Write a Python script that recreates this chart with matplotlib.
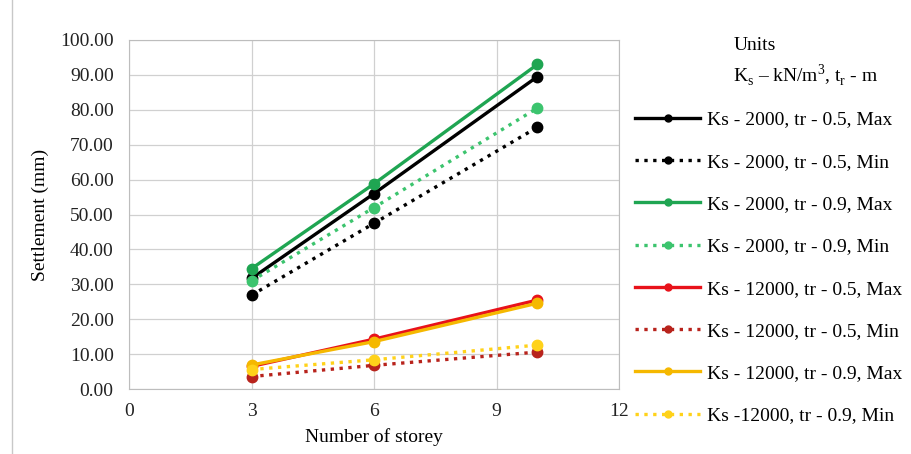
import matplotlib
matplotlib.use("Agg")
import matplotlib.pyplot as plt
from matplotlib.lines import Line2D

storeys = [3, 6, 10]

ks2000_tr05_max = [31.7, 56.0, 89.5]
ks2000_tr05_min = [26.9, 47.5, 75.0]
ks2000_tr09_max = [34.5, 58.8, 93.0]
ks2000_tr09_min = [31.0, 52.0, 80.5]
ks12000_tr05_max = [6.5, 14.3, 25.5]
ks12000_tr05_min = [3.6, 6.8, 10.6]
ks12000_tr09_max = [6.9, 13.6, 24.6]
ks12000_tr09_min = [5.6, 8.4, 12.6]

labels = [
    "Ks - 2000, tr - 0.5, Max",
    "Ks - 2000, tr - 0.5, Min",
    "Ks - 2000, tr - 0.9, Max",
    "Ks - 2000, tr - 0.9, Min",
    "Ks - 12000, tr - 0.5, Max",
    "Ks - 12000, tr - 0.5, Min",
    "Ks - 12000, tr - 0.9, Max",
    "Ks -12000, tr - 0.9, Min",
]
series = [
    ks2000_tr05_max, ks2000_tr05_min, ks2000_tr09_max, ks2000_tr09_min,
    ks12000_tr05_max, ks12000_tr05_min, ks12000_tr09_max, ks12000_tr09_min,
]
colors = ["#000000", "#000000", "#1fa552", "#3cc46e",
          "#e8121a", "#b8231c", "#f5b800", "#ffd21a"]
styles = ["-", ":", "-", ":", "-", ":", "-", ":"]

plt.rcParams["font.family"] = ["Liberation Serif", "DejaVu Serif"]
plt.rcParams["mathtext.fontset"] = "custom"
plt.rcParams["mathtext.rm"] = "Liberation Serif"

FS = 14

fig = plt.figure(figsize=(9.11, 4.54), dpi=100)
ax = fig.add_axes([0.1416, 0.143, 0.538, 0.769])

for vals, lab, col, ls in zip(series, labels, colors, styles):
    ax.plot(storeys, vals, ls, color=col, lw=2.4, marker="o", ms=7.5,
            label=lab, zorder=3)

ax.set_xlim(0, 12)
ax.set_ylim(0, 100)
ax.set_xticks([0, 3, 6, 9, 12])
ax.set_yticks(range(0, 101, 10))
ax.set_yticklabels([f"{v:.2f}" for v in range(0, 101, 10)])
ax.tick_params(length=0, labelsize=FS, colors="#222222")
ax.tick_params(axis="y", pad=11)
ax.tick_params(axis="x", pad=10)
ax.grid(True, color="#d0d0d0", lw=0.9)
for s in ax.spines.values():
    s.set_color("#bdbdbd")
ax.set_xlabel("Number of storey", fontsize=FS, labelpad=6)
ax.set_ylabel("Settlement (mm)", fontsize=FS, labelpad=8)

handles = [Line2D([0], [0], color=c, ls=ls, lw=2.4, marker="o", ms=5)
           for c, ls in zip(colors, styles)]
fig.legend(handles, labels, loc="upper left", bbox_to_anchor=(0.689, 0.773),
           frameon=False, fontsize=FS, handlelength=3.3, handletextpad=0.4,
           labelspacing=1.27, borderaxespad=0)

fig.text(0.805, 0.90, "Units", fontsize=FS, va="center")
fig.text(0.805, 0.835, r"K$_\mathrm{s}$ – kN/m$^\mathrm{3}$, t$_\mathrm{r}$ - m",
         fontsize=FS, va="center")

# thin frame line at the left edge of the image
fig.add_artist(Line2D([0.013, 0.013], [0, 1], color="#c8c8c8", lw=1,
                      transform=fig.transFigure))

fig.savefig("out.png", dpi=100)
